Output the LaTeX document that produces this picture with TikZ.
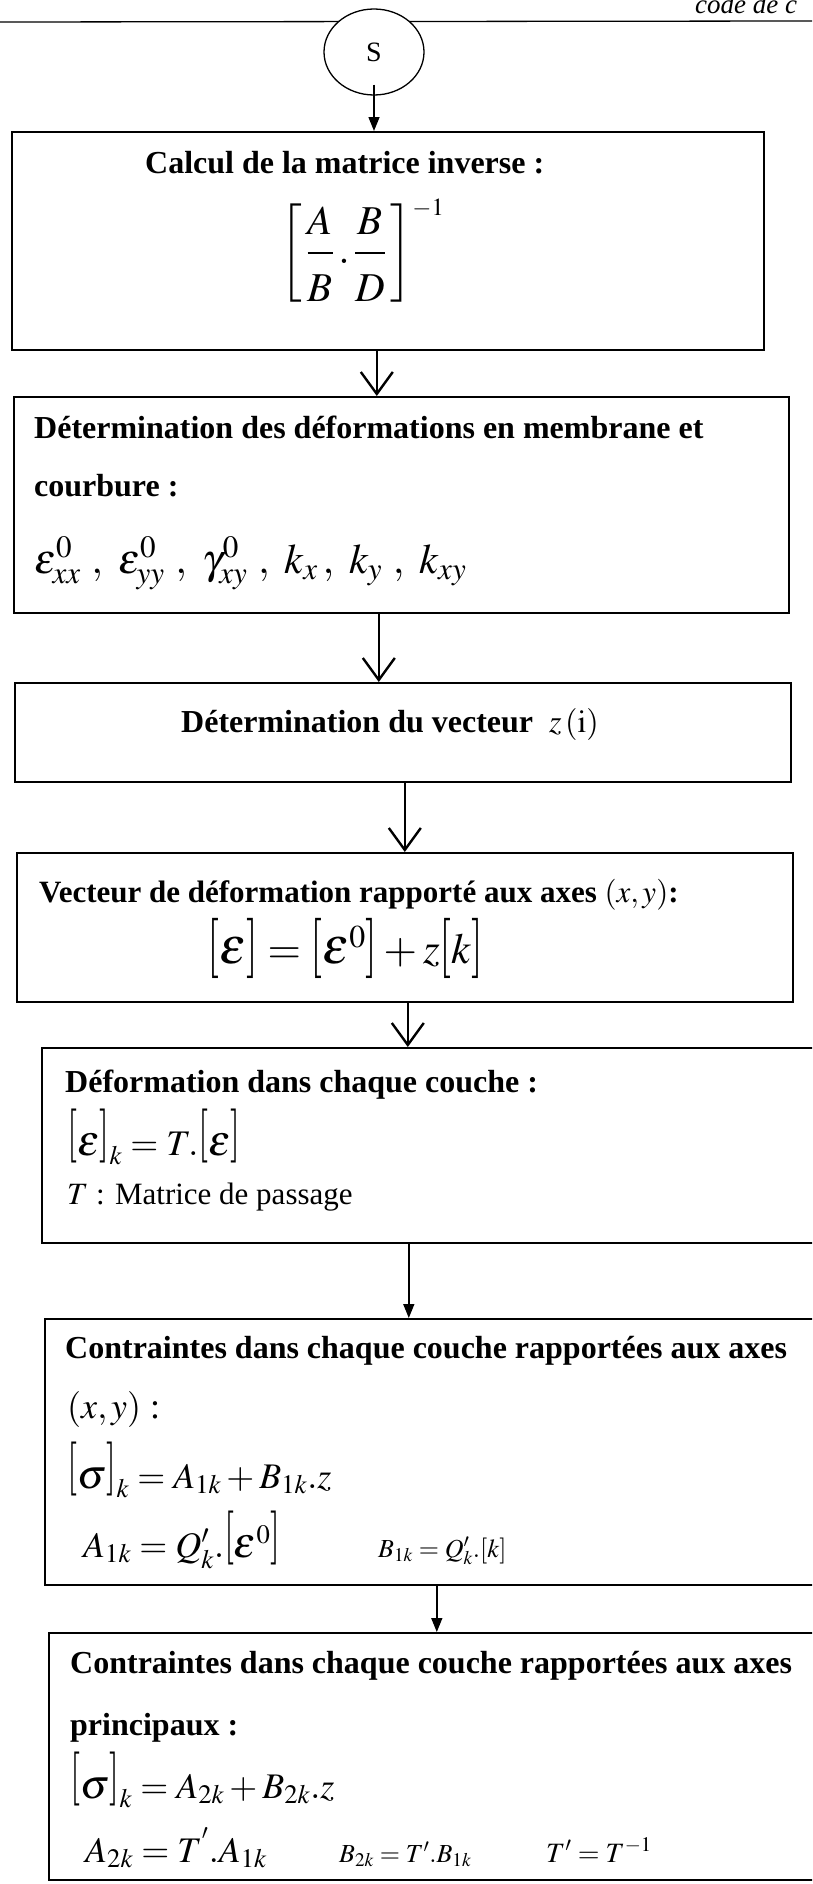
\documentclass[tikz,border=0pt]{standalone}
\usepackage{mathptmx}
\usepackage{fontspec}
\setmainfont{Liberation Serif}
\usetikzlibrary{arrows.meta,shapes.geometric}
\newcommand\fbold{\fontsize{32}{38}\selectfont\bfseries}
\newcommand\freg{\fontsize{31}{38}\selectfont}
\newcommand\fmath{\fontsize{36}{42}\selectfont}
\newcommand\fsmall{\fontsize{26}{30}\selectfont}
\newcommand\lbr{\mathopen{\raisebox{0.15em}{\scalebox{1}[1.5]{$[$}}}}
\newcommand\rbr{\mathclose{\raisebox{0.15em}{\scalebox{1}[1.5]{$]$}}}}
\newcommand\Lbr{\mathopen{\scalebox{1}[1.4]{$[$}}}
\newcommand\Rbr{\mathclose{\scalebox{1}[1.4]{$]$}}}
\newcommand\Eps{\mathord{\scalebox{1.2}{$\varepsilon$}}}
\newcommand\Sig{\mathord{\scalebox{1.15}{$\sigma$}}}
\begin{document}
\begin{tikzpicture}[x=1pt,y=-1pt,
  box/.style={draw,line width=1.6pt,rectangle,inner sep=0pt,anchor=north west},
  bt/.style={font=\fbold,anchor=base west,inner sep=0pt},
  rt/.style={font=\freg,anchor=base west,inner sep=0pt},
  mt/.style={font=\fmath,anchor=base west,inner sep=0pt},
  st/.style={font=\fsmall,anchor=base west,inner sep=0pt},
  fat/.style={line width=2.4pt,-{Straight Barb[length=22pt,width=32pt]}},
  thinarr/.style={line width=1.5pt,-{Triangle[length=14pt,width=11pt]}},
]
\useasboundingbox (0,0) rectangle (812,1884);
\clip (0,0) rectangle (812,1884);
% header
\draw[line width=1.3pt] (0,22) coordinate (hl) -- (812,21) coordinate (hr);
\node[font=\fontsize{27}{30}\selectfont\itshape,anchor=base west,inner sep=0pt] (hdr) at (695,14) {code de c};
\node[ellipse,draw,fill=white,line width=1.3pt,minimum width=100pt,minimum height=86pt,inner sep=0pt,font=\fontsize{28}{32}\selectfont] (s) at (374,52) {S};
% boxes
\node[box,minimum width=752pt,minimum height=218pt] (b1) at (11,131) {};
\node[box,minimum width=775pt,minimum height=216pt] (b2) at (13,396) {};
\node[box,minimum width=776pt,minimum height=99pt] (b3) at (14,682) {};
\node[box,minimum width=776pt,minimum height=149pt] (b4) at (16,852) {};
\node[box,minimum width=800pt,minimum height=195pt] (b5) at (41,1047) {};
\node[box,minimum width=800pt,minimum height=266pt] (b6) at (44,1318) {};
\node[box,minimum width=800pt,minimum height=247pt] (b7) at (48,1632) {};
% box 1
\node[bt] (t1) at (145,173) {Calcul de la matrice inverse :};
\node[inner sep=0pt,anchor=base west,font=\fontsize{41}{46}\selectfont] (m1) at (280,263) {$\displaystyle\left[\,\frac{A\rule[-0.3em]{0pt}{0pt}}{\rule{0pt}{1.05em}B}\,.\,\frac{B\rule[-0.3em]{0pt}{0pt}}{\rule{0pt}{1.05em}D}\,\right]^{\scriptscriptstyle -1}$};
% box 2
\node[bt] (t2a) at (34,438) {Détermination des déformations en membrane et};
\node[bt] (t2b) at (34,496) {courbure :};
\node[mt,font=\fontsize{42}{46}\selectfont] (t2c) at (34,573) {$\varepsilon^{0}_{xx}\ ,\ \varepsilon^{0}_{yy}\ ,\ \gamma^{0}_{xy}\ ,\ k_{x}\,,\ k_{y}\ ,\ k_{xy}$};
% box 3
\node[bt] (t3) at (181,732) {Détermination du vecteur \ $z\,(\mathrm{i})$};
% box 4
\node[bt,font=\fontsize{31}{38}\selectfont\bfseries] (t4a) at (39,902) {Vecteur de déformation rapporté aux axes $(x,y)$:};
\node[mt,font=\fontsize{43}{48}\selectfont] (t4b) at (207,963) {$\Lbr\Eps\Rbr=\Lbr\Eps^{0}\Rbr+z\Lbr k\Rbr$};
% box 5
\node[bt] (t5a) at (65,1092) {Déformation dans chaque couche :};
\node[mt] (t5b) at (67,1155) {$\lbr\Eps\rbr_{k}=T.\lbr\Eps\rbr$};
\node[rt] (t5c) at (67,1204) {$T$ : Matrice de passage};
% box 6
\node[bt] (t6a) at (65,1358) {Contraintes dans chaque couche rapportées aux axes};
\node[rt,font=\fontsize{36}{40}\selectfont] (t6b) at (67,1418) {$(x,y)$ :};
\node[mt] (t6c) at (67,1488) {$\lbr\Sig\rbr_{k}=A_{1k}+B_{1k}.z$};
\node[mt] (t6d) at (83,1557) {$A_{1k}=Q'_{k}.\lbr\Eps^{0}\rbr$};
\node[st] (t6e) at (378,1557) {$B_{1k}=Q'_{k}.[k]$};
% box 7
\node[bt] (t7a) at (70,1673) {Contraintes dans chaque couche rapportées aux axes};
\node[bt] (t7b) at (70,1735) {principaux :};
\node[mt] (t7c) at (70,1798) {$\lbr\Sig\rbr_{k}=A_{2k}+B_{2k}.z$};
\node[mt] (t7d) at (85,1862) {$A_{2k}=T^{'}.A_{1k}$};
\node[st] (t7e) at (339,1862) {$B_{2k}=T'.B_{1k}$};
\node[st,font=\fontsize{28}{32}\selectfont] (t7f) at (546,1862) {$T'=T^{-1}$};
% connectors
\draw[thinarr] ([yshift=11pt]s.south) -- (s.south |- b1.north);
\draw[fat] ([xshift=-11pt]b1.south) -- ([xshift=-11pt]b1.south |- b2.north);
\draw[fat] ([xshift=-22.5pt]b2.south) -- ([xshift=-22.5pt]b2.south |- b3.north);
\draw[fat] ([xshift=2pt]b3.south) -- ([xshift=2pt]b3.south |- b4.north);
\draw[fat] ([xshift=3pt]b4.south) -- ([xshift=3pt]b4.south |- b5.north);
\draw[thinarr] ([xshift=-33pt]b5.south) -- ([xshift=-33pt]b5.south |- b6.north);
\draw[thinarr] ([xshift=-8pt]b6.south) -- ([xshift=-8pt]b6.south |- b7.north);
\end{tikzpicture}
\end{document}
